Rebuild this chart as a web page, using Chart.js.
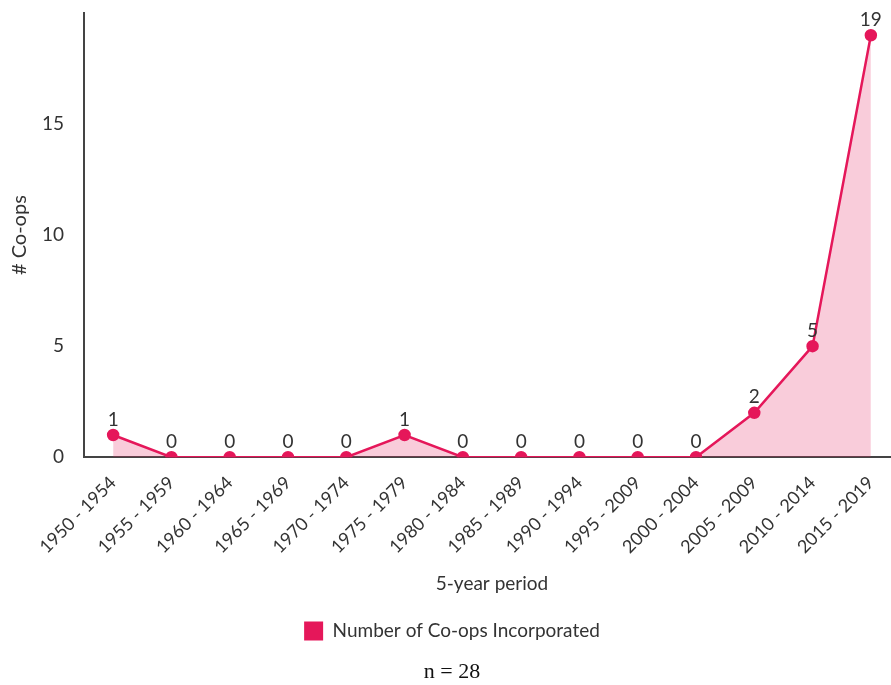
<!DOCTYPE html>
<html>
<head>
<meta charset="utf-8">
<script src="https://cdn.jsdelivr.net/npm/chart.js@4"></script>
<style>
  html, body { margin: 0; padding: 0; background: #fff; overflow: hidden; }
  #wrap { width: 910px; height: 685px; }
</style>
</head>
<body>
<div id="wrap"><canvas id="myChart" width="910" height="685"></canvas></div>
<script>
const periods = ['1950 - 1954', '1955 - 1959', '1960 - 1964', '1965 - 1969', '1970 - 1974', '1975 - 1979', '1980 - 1984',
    '1985 - 1989', '1990 - 1994', '1995 - 2009', '2000 - 2004', '2005 - 2009', '2010 - 2014', '2015 - 2019']
const coops = [1, 0, 0, 0, 0, 1, 0, 0, 0, 0, 0, 2, 5, 19]
const yTicks = [0, 5, 10, 15]

const lineColor = '#E5175A'
const fillColor = 'rgba(232, 40, 100, 0.24)'

// numbers above each point
const pointLabels = {
    id: 'pointLabels',
    afterDatasetsDraw(chart){
        const ctx = chart.ctx
        const meta = chart.getDatasetMeta(0)
        ctx.save()
        ctx.font = '19px Lato'
        ctx.fillStyle = '#333'
        ctx.textAlign = 'center'
        ctx.textBaseline = 'bottom'
        meta.data.forEach((pt, i) => {
            ctx.fillText(String(coops[i]), pt.x, pt.y - 6)
        })
        ctx.restore()
    }
}

const ctx = document.getElementById('myChart')
new Chart(ctx, {
    type: 'line',
    data: {
        labels: periods,
        datasets: [{
            label: 'Number of Co-ops Incorporated',
            data: coops,
            borderColor: lineColor,
            backgroundColor: fillColor,
            borderWidth: 2.5,
            fill: 'origin',
            tension: 0,
            pointRadius: 5,
            pointBackgroundColor: lineColor,
            pointBorderColor: lineColor
        }]
    },
    options: {
        responsive: false,
        animation: false,
        layout: { padding: { top: 0, right: 10, left: 4 } },
        scales: {
            x: {
                offset: true,
                grid: { display: false, drawTicks: false },
                border: { color: '#444', width: 2 },
                ticks: {
                    minRotation: 45, maxRotation: 45,
                    padding: 15,
                    color: '#333',
                    font: { family: 'Lato', size: 18 }
                },
                title: {
                    display: true, text: '5-year period',
                    color: '#333',
                    font: { family: 'Lato', size: 19 },
                    padding: { top: 0, bottom: 12 }
                }
            },
            y: {
                min: 0, max: 20,
                grid: { display: false, drawTicks: false },
                border: { color: '#444', width: 2 },
                afterBuildTicks: axis => { axis.ticks = yTicks.map(v => ({ value: v })) },
                afterFit: axis => {
                    axis.width = 80
                    axis.paddingTop = 13
                },
                ticks: {
                    padding: 20,
                    color: '#333',
                    font: { family: 'Lato', size: 19 }
                },
                title: {
                    display: true, text: '# Co-ops',
                    color: '#333',
                    font: { family: 'Lato', size: 20 },
                    padding: { top: 4, bottom: 4 }
                }
            }
        },
        plugins: {
            legend: {
                position: 'bottom',
                labels: {
                    boxWidth: 19, boxHeight: 19,
                    color: '#333',
                    padding: 14,
                    font: { family: 'Lato', size: 19 },
                    generateLabels: chart => [{
                        text: chart.data.datasets[0].label,
                        fillStyle: lineColor,
                        strokeStyle: lineColor,
                        lineWidth: 0,
                        fontColor: '#333',
                        datasetIndex: 0
                    }]
                }
            },
            title: {
                display: true,
                position: 'bottom',
                text: 'n = 28',
                color: '#111',
                font: { family: 'Liberation Serif', size: 22, weight: 'normal' },
                padding: { top: 8, bottom: 0 }
            },
            tooltip: { enabled: false }
        }
    },
    plugins: [pointLabels]
})
</script>
</body>
</html>
